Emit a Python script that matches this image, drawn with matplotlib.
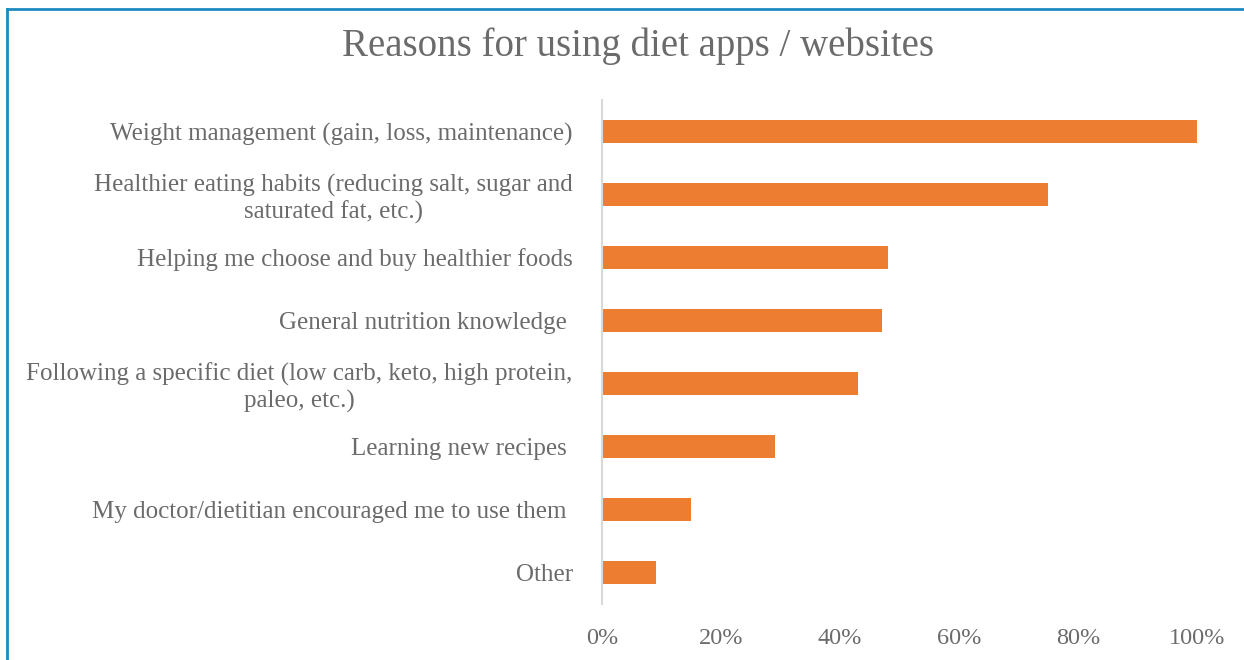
import matplotlib
matplotlib.use("Agg")
import matplotlib.pyplot as plt
from matplotlib.lines import Line2D
from matplotlib.ticker import FuncFormatter

# survey answers, top to bottom
reasons = [
    "Weight management (gain, loss, maintenance)",
    "Healthier eating habits (reducing salt, sugar and\nsaturated fat, etc.)",
    "Helping me choose and buy healthier foods",
    "General nutrition knowledge ",
    "Following a specific diet (low carb, keto, high protein,\npaleo, etc.)",
    "Learning new recipes ",
    "My doctor/dietitian encouraged me to use them ",
    "Other",
]
shares = [1.00, 0.75, 0.48, 0.47, 0.43, 0.29, 0.15, 0.09]
xticks = [0.0, 0.2, 0.4, 0.6, 0.8, 1.0]

TEXT = "#6B6B6B"
BAR = "#ED7D31"
plt.rcParams["font.family"] = ["Liberation Serif", "DejaVu Serif"]

fig = plt.figure(figsize=(12.44, 6.60), dpi=100)
ax = fig.add_axes([602 / 1244, 1 - 604 / 660, 595 / 1244, 504 / 660])

ypos = list(range(len(reasons)))[::-1]
ax.barh(ypos, shares, height=0.35, color=BAR, zorder=2)

ax.set_xlim(0, 1)
ax.set_ylim(-0.5, len(reasons) - 0.5)
ax.set_yticks(ypos)
ax.set_yticklabels(reasons, fontsize=18, color=TEXT, multialignment="center",
                   linespacing=1.2)
ax.set_xticks(xticks)
ax.xaxis.set_major_formatter(FuncFormatter(lambda v, _: f"{v * 100:.0f}%"))
ax.tick_params(axis="x", length=0, pad=17, labelsize=17.5, labelcolor=TEXT)
ax.tick_params(axis="y", length=0, pad=21)

for side in ["top", "right", "bottom"]:
    ax.spines[side].set_visible(False)
ax.spines["left"].set_color("#D9D9D9")
ax.spines["left"].set_linewidth(1.5)

fig.text(638 / 1244, 1 - 46 / 660, "Reasons for using diet apps / websites",
         ha="center", va="center", fontsize=28, color=TEXT)

# blue frame around the chart area (only left and top edges fall inside)
x0, y0 = 7 / 1244, 1 - 8.5 / 660
fig.add_artist(Line2D([x0, x0], [0, y0], transform=fig.transFigure,
                      color="#1F8AC2", lw=2))
fig.add_artist(Line2D([x0, 1], [y0, y0], transform=fig.transFigure,
                      color="#1F8AC2", lw=2))

fig.savefig("out.png", dpi=100, facecolor="white")
